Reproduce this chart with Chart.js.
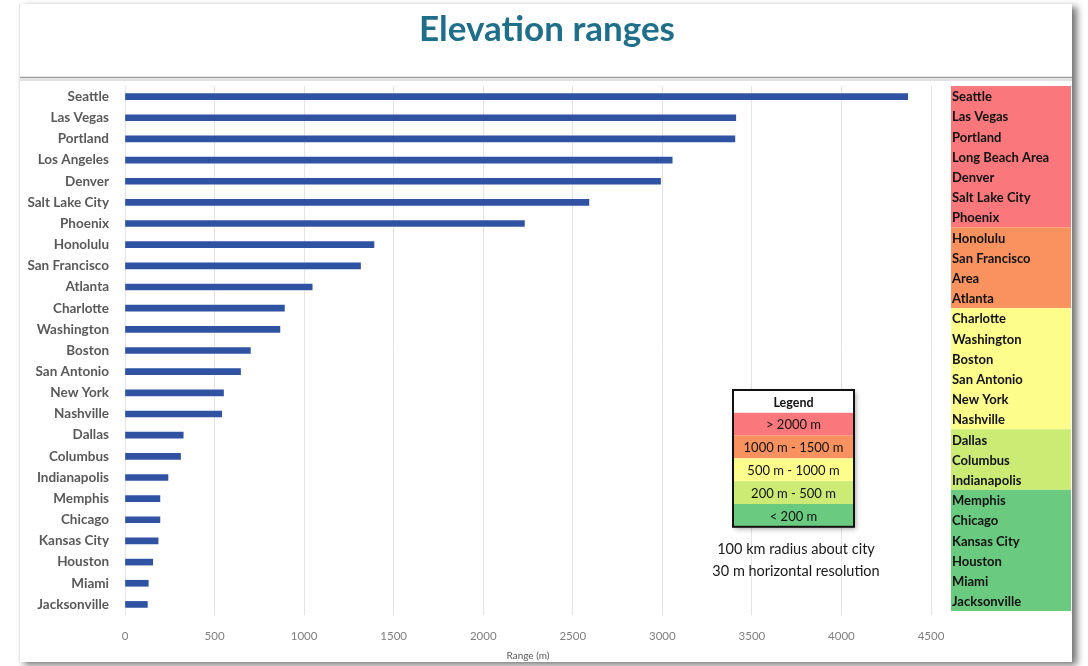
<!DOCTYPE html>
<html>
<head>
<meta charset="utf-8">
<title>Elevation ranges</title>
<script src="https://cdn.jsdelivr.net/npm/chart.js@4.4.1/dist/chart.umd.min.js"></script>
<style>
  html, body { margin: 0; padding: 0; background: #ffffff; }
  #wrap { width: 1088px; height: 666px; }
</style>
</head>
<body>
<div id="wrap"><canvas id="myChart" width="1088" height="666"></canvas></div>
<script>

// cities and their elevation range (m) inside 100 km
const cities = ["Seattle", "Las Vegas", "Portland", "Los Angeles", "Denver", "Salt Lake City", "Phoenix",
  "Honolulu", "San Francisco", "Atlanta", "Charlotte", "Washington", "Boston", "San Antonio",
  "New York", "Nashville", "Dallas", "Columbus", "Indianapolis", "Memphis", "Chicago",
  "Kansas City", "Houston", "Miami", "Jacksonville"];
const ranges = [4370, 3410, 3405, 3055, 2990, 2590, 2230, 1390, 1315, 1045, 890, 865, 700, 645,
  550, 540, 325, 310, 240, 195, 195, 185, 155, 130, 125];
const xTicks = [0, 500, 1000, 1500, 2000, 2500, 3000, 3500, 4000, 4500];

// side table, one list per colour band
const tableRed = ["Seattle", "Las Vegas", "Portland", "Long Beach Area", "Denver", "Salt Lake City", "Phoenix"];
const tableOrange = ["Honolulu", "San Francisco", "Area", "Atlanta"];
const tableYellow = ["Charlotte", "Washington", "Boston", "San Antonio", "New York", "Nashville"];
const tableLime = ["Dallas", "Columbus", "Indianapolis"];
const tableGreen = ["Memphis", "Chicago", "Kansas City", "Houston", "Miami", "Jacksonville"];

const bandColors = ["#fa777c", "#f9925e", "#fdfd8c", "#cbeb75", "#69ca80"];
const legendLabels = ["> 2000 m", "1000 m - 1500 m", "500 m - 1000 m", "200 m - 500 m", "< 200 m"];
const notes = ["100 km radius about city", "30 m horizontal resolution"];
const chartTitle = "Elevation ranges";

const FONT = "Lato, 'Open Sans', sans-serif";

// white slide panel with its drop shadow, and the title
const panelPlugin = {
  id: "panel",
  beforeDraw(chart) {
    let ctx = chart.ctx;
    ctx.save();
    ctx.fillStyle = "#ffffff";
    ctx.fillRect(0, 0, chart.width, chart.height);
    ctx.shadowColor = "rgba(0,0,0,0.55)";
    ctx.shadowBlur = 7;
    ctx.shadowOffsetX = 5;
    ctx.shadowOffsetY = 3;
    ctx.fillRect(19, 4, 1053, 658);
    ctx.shadowColor = "transparent";
    // line under the title
    ctx.strokeStyle = "#9a9a9a";
    ctx.lineWidth = 1.5;
    ctx.beginPath();
    ctx.moveTo(19, 77.5);
    ctx.lineTo(1072, 77.5);
    ctx.stroke();
    ctx.strokeStyle = "#e2e2e2";
    ctx.lineWidth = 2;
    ctx.beginPath();
    ctx.moveTo(19, 80);
    ctx.lineTo(1072, 80);
    ctx.stroke();
    // faint left edge
    ctx.strokeStyle = "#e6e6e6";
    ctx.lineWidth = 1;
    ctx.beginPath();
    ctx.moveTo(19.5, 4);
    ctx.lineTo(19.5, 662);
    ctx.stroke();

    ctx.fillStyle = "#1f6f8b";
    ctx.font = "bold 35px " + FONT;
    ctx.textAlign = "center";
    ctx.textBaseline = "middle";
    ctx.fillText(chartTitle, 547, 30);
    ctx.restore();
  }
};

// coloured city table on the right, legend box and notes
const extrasPlugin = {
  id: "extras",
  afterDraw(chart) {
    let ctx = chart.ctx;
    let area = chart.chartArea;
    ctx.save();

    let groups = [tableRed, tableOrange, tableYellow, tableLime, tableGreen];
    let total = 0;
    groups.forEach(g => total += g.length);
    let tx = 951, tw = 120;
    let top = area.top, bottom = 611;
    let lineH = (bottom - top) / total;
    let y = top;
    ctx.textAlign = "left";
    ctx.textBaseline = "middle";
    ctx.font = "bold 13px " + FONT;
    groups.forEach((g, i) => {
      ctx.fillStyle = bandColors[i];
      ctx.fillRect(tx, y, tw, g.length * lineH);
      ctx.fillStyle = "#111111";
      g.forEach((name, j) => {
        ctx.fillText(name, tx + 1, y + lineH * j + lineH / 2 + 1);
      });
      y += g.length * lineH;
    });

    // legend box
    let lx = 733, ly = 390, lw = 121, rowH = 22.8;
    ctx.shadowColor = "rgba(0,0,0,0.35)";
    ctx.shadowBlur = 5;
    ctx.shadowOffsetX = 2;
    ctx.shadowOffsetY = 2;
    ctx.fillStyle = "#ffffff";
    ctx.fillRect(lx, ly, lw, rowH * 6);
    ctx.shadowColor = "transparent";
    legendLabels.forEach((lab, i) => {
      ctx.fillStyle = bandColors[i];
      ctx.fillRect(lx, ly + rowH * (i + 1), lw, rowH);
    });
    ctx.strokeStyle = "#111111";
    ctx.lineWidth = 2;
    ctx.strokeRect(lx, ly, lw, rowH * 6);
    ctx.textAlign = "center";
    ctx.fillStyle = "#111111";
    ctx.font = "bold 12.5px " + FONT;
    ctx.fillText("Legend", lx + lw / 2, ly + rowH / 2 + 2);
    ctx.font = "13px " + FONT;
    legendLabels.forEach((lab, i) => {
      ctx.fillText(lab, lx + lw / 2, ly + rowH * (i + 1) + rowH / 2 + 1);
    });

    // notes under the legend
    ctx.font = "14.5px " + FONT;
    ctx.fillStyle = "#1a1a1a";
    notes.forEach((t, i) => {
      ctx.fillText(t, 796, 549 + i * 22);
    });
    ctx.restore();
  }
};

let ctx = document.getElementById("myChart").getContext("2d");
let chart = new Chart(ctx, {
  type: "bar",
  data: {
    labels: cities,
    datasets: [{
      label: "Range (m)",
      data: ranges,
      backgroundColor: "#2f53a2",
      barThickness: 6
    }]
  },
  options: {
    indexAxis: "y",
    responsive: false,
    animation: false,
    layout: { padding: { left: 20, right: 157, top: 86, bottom: 0 } },
    plugins: {
      legend: { display: false },
      tooltip: { enabled: false },
      title: { display: false }
    },
    scales: {
      x: {
        min: 0,
        max: 4500,
        afterBuildTicks: axis => { axis.ticks = xTicks.map(v => ({ value: v })); },
        afterFit: axis => { axis.height = 51; },
        grid: { color: "#e4e4e4", drawTicks: false },
        border: { display: false },
        ticks: {
          color: "#7f7f7f",
          padding: 14,
          font: { family: FONT, size: 11.5 },
          callback: v => String(v)
        },
        title: {
          display: true,
          text: "Range (m)",
          color: "#595959",
          font: { family: FONT, size: 10 },
          padding: { top: 0, bottom: 4 }
        }
      },
      y: {
        afterFit: axis => { axis.width = 105; },
        grid: { display: false },
        border: { display: false },
        ticks: { color: "#595959", padding: 8, autoSkip: false, font: { family: FONT, size: 13.5, weight: "bold" } }
      }
    }
  },
  plugins: [panelPlugin, extrasPlugin]
});
</script>
</body>
</html>
